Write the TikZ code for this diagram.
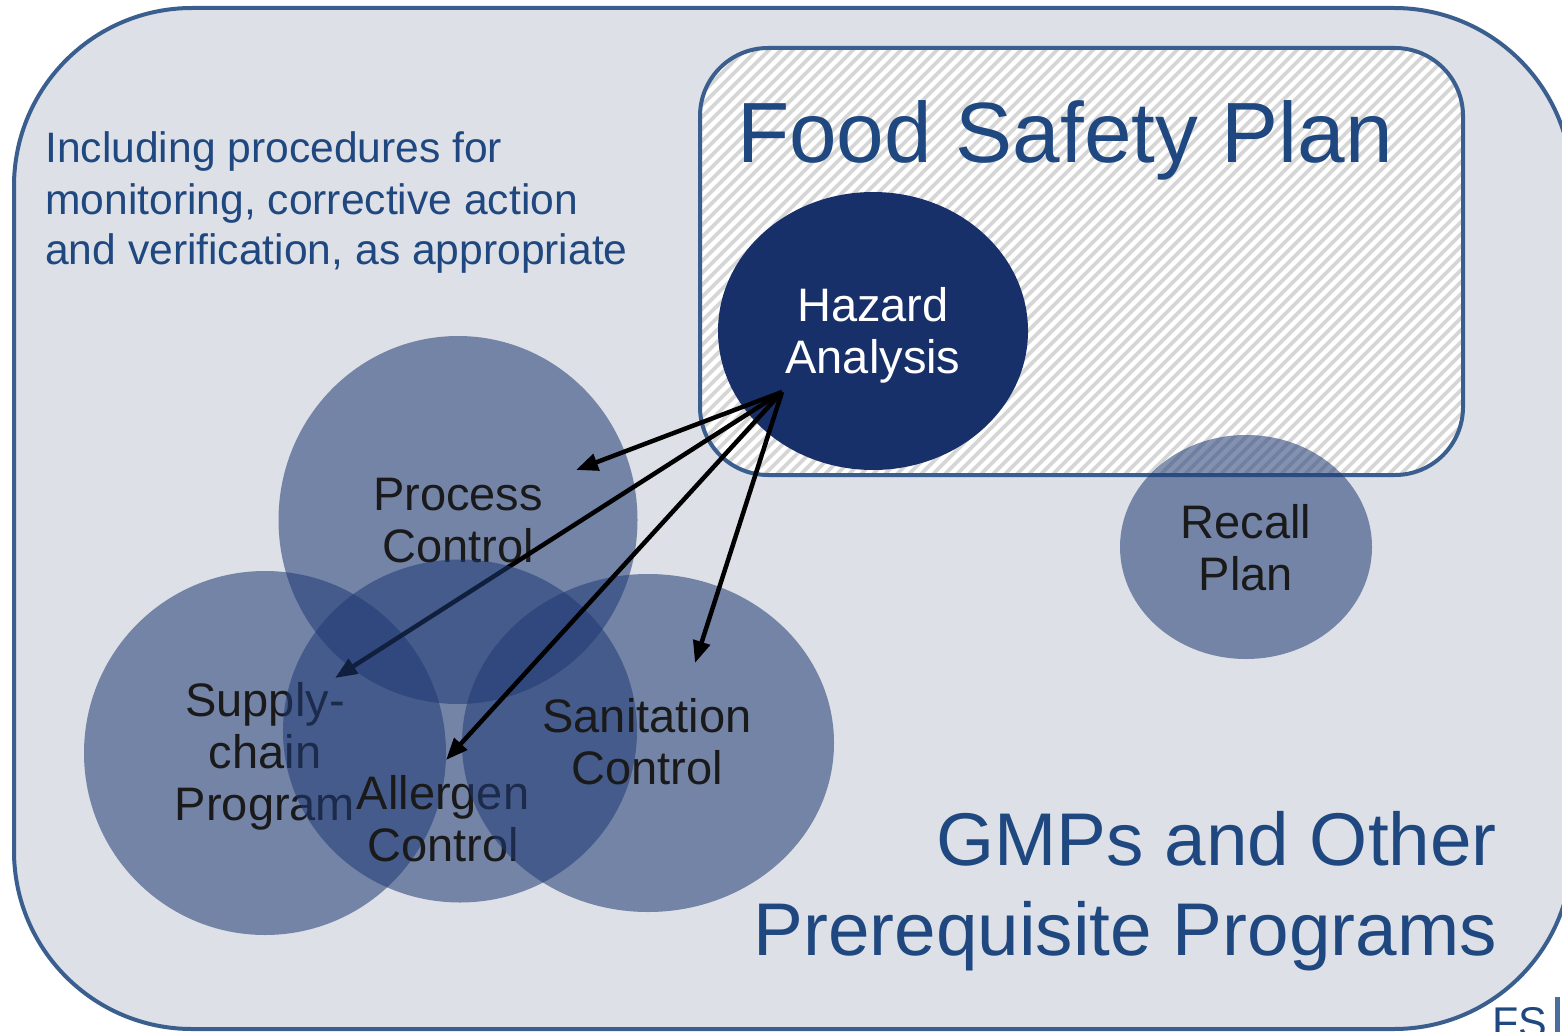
\documentclass[tikz,border=0pt]{standalone}
\usepackage{fontspec}
\setmainfont{Liberation Sans}
\usetikzlibrary{arrows.meta,shapes.geometric}

\definecolor{frame}{HTML}{3A5F8F}
\definecolor{panel}{HTML}{DDE0E6}
\definecolor{titleblue}{HTML}{1F4780}
\definecolor{navy}{HTML}{17306A}
\definecolor{circ}{HTML}{1F3A74}
\definecolor{hatchgray}{HTML}{D6D6D6}
\definecolor{ink}{HTML}{1A1A1A}
\definecolor{logoblue}{HTML}{4A6E9E}

\begin{document}
\begin{tikzpicture}[x=1pt,y=-1pt,
  blob/.style={ellipse, draw=none, fill=circ, fill opacity=0.55, inner sep=0pt},
  lbl/.style={text=ink, align=center, anchor=base, inner sep=0pt,
              font=\fontsize{47}{52}\selectfont},
  heading/.style={text=titleblue, inner sep=0pt},
  link/.style={line width=4.5pt, black, -{Triangle[length=22pt,width=17pt]}},
]
\useasboundingbox (0,0) rectangle (1562,1032);

% outer panel: GMPs and other prerequisite programs
\draw[line width=4pt, draw=frame, fill=panel, rounded corners=178pt]
  (14,8) rectangle (1572,1029);

% hatched food safety plan box
\begin{scope}
  \clip[rounded corners=68pt] (700,48) rectangle (1463,475);
  \fill[white] (700,48) rectangle (1463,475);
  \foreach \k in {0,...,105}
    \draw[hatchgray, line width=3.8pt] ({250+12*\k},485) -- ++(450,-450);
\end{scope}
\draw[line width=4pt, draw=frame, rounded corners=68pt]
  (700,48) rectangle (1463,475);

% headings (multi-line nodes sit on the baseline of their last line)
\node[heading, anchor=base west, font=\fontsize{85.5}{90}\selectfont]
  (fsp) at (737,163) {Food Safety Plan};
\node[heading, anchor=base west, align=left, font=\fontsize{42.6}{51}\selectfont]
  (note) at (45,265) {Including procedures for\\monitoring, corrective action\\and verification, as appropriate};
\node[heading, anchor=base east, align=right, font=\fontsize{74.7}{90}\selectfont]
  (gmp) at (1497,955) {GMPs and Other\\Prerequisite Programs};

% partial logo in the corner
\node[text=titleblue, anchor=base west, inner sep=0pt, font=\fontsize{43}{43}\selectfont]
  (logo) at (1492,1037) {FS};
\fill[logoblue] (1555,997) rectangle (1560,1032);

% hazard analysis
\node[ellipse, fill=navy, draw=none, inner sep=0pt,
      minimum width=310pt, minimum height=278pt] (ha) at (873,331) {};
\node[lbl, text=white] (hatext) at (873,373) {Hazard\\Analysis};

% recall plan
\node[blob, minimum width=252pt, minimum height=224pt] (rp) at (1246,547) {};
\node[lbl] (rptext) at (1246,590) {Recall\\Plan};

% arrow anchors
\coordinate (hub) at (782,392);
\coordinate (tipP) at (576,470);
\coordinate (tipS) at (335,678);
\coordinate (tipA) at (446,760);
\coordinate (tipN) at (695,663);

% overlapping control programs
\node[blob, minimum width=359pt, minimum height=368pt] (pc) at (458,520) {};
\node[lbl] (pctext) at (458,562) {Process\\Control};

\node[blob, minimum width=362pt, minimum height=364pt] (sc) at (265,753) {};
\node[lbl] (sctext) at (265,820) {Supply-\\chain\\Program};

\draw[link] (hub) -- (tipS);

\node[blob, minimum width=354pt, minimum height=343pt] (ac) at (460,731) {};
\node[lbl] (actext) at (443,861) {Allergen\\Control};

\node[blob, minimum width=372pt, minimum height=338pt] (sn) at (648,743) {};
\node[lbl] (sntext) at (647,784) {Sanitation\\Control};

\draw[link] (hub) -- (tipP);
\draw[link] (hub) -- (tipA);
\draw[link] (hub) -- (tipN);
\end{tikzpicture}
\end{document}
